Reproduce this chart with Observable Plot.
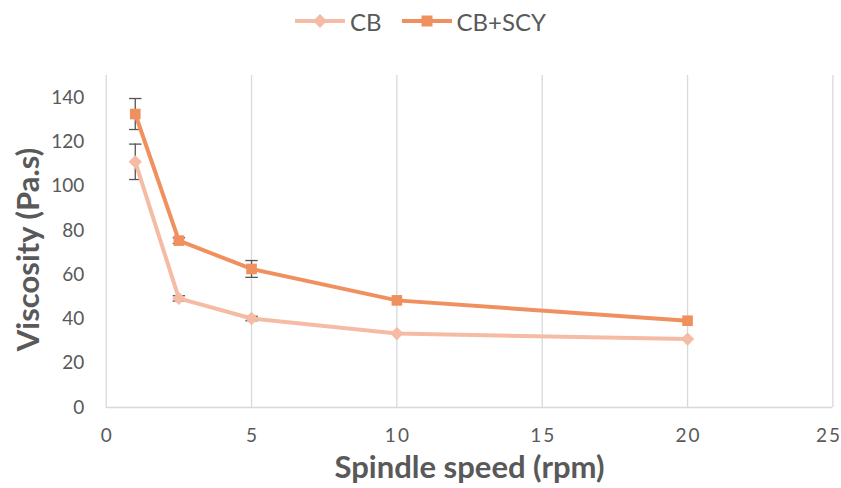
<!DOCTYPE html>
<html><head><meta charset="utf-8">
<script src="https://cdn.jsdelivr.net/npm/d3@7"></script>
<script src="https://cdn.jsdelivr.net/npm/@observablehq/plot@0.6"></script>
<style>
body{margin:0;background:#fff;font-family:Lato,"Open Sans",sans-serif;}
#legend{height:42px;display:flex;justify-content:center;align-items:center;color:#595959;font-size:24px;box-sizing:border-box;}
#legend .item{display:flex;align-items:center;margin:0 10px;}
#legend svg{margin-right:5px;}
</style></head><body>
<div id="legend"></div><div id="chart"></div>
<script>
const speeds = [1, 2.5, 5, 10, 20];
const cb = [111, 49.3, 40.2, 33.4, 30.9];
const cbErr = [8, 1.2, 1, 0, 0];
const cbScy = [132.6, 75.4, 62.6, 48.4, 39.2];
const cbScyErr = [7, 1.3, 3.8, 0, 0];
const seriesNames = ["CB", "CB+SCY"];
const seriesColors = ["#F6BBA4", "#F0905F"];
const seriesSymbols = ["diamond2", "square"];
const xTicks = [0, 5, 10, 15, 20, 25];
const yTicks = [0, 20, 40, 60, 80, 100, 120, 140];
const xLabel = "Spindle speed (rpm)";
const yLabel = "Viscosity (Pa.s)";

const data = [];
[[cb, cbErr], [cbScy, cbScyErr]].forEach(([vals, errs], s) => {
  vals.forEach((v, i) => data.push({series: seriesNames[s], x: speeds[i], y: v, err: errs[i]}));
});
const errData = data.filter(d => d.err > 0);
const cap = {draw(ctx, size) { const r = Math.sqrt(size); ctx.moveTo(-r, 0); ctx.lineTo(r, 0); }};

const plot = Plot.plot({
  width: 841, height: 446,
  marginLeft: 105.7, marginRight: 8.6, marginTop: 33, marginBottom: 81,
  style: {fontFamily: "Lato, 'Open Sans', sans-serif", fontSize: "19px", color: "#595959", background: "#fff", overflow: "visible"},
  x: {domain: [0, 25]},
  y: {domain: [0, 150]},
  color: {domain: seriesNames, range: seriesColors},
  marks: [
    Plot.gridX(xTicks, {stroke: "#d9d9d9", strokeOpacity: 1, strokeWidth: 1.3}),
    Plot.ruleY([0], {stroke: "#d9d9d9", strokeWidth: 1.3}),
    Plot.axisX({ticks: xTicks, tickSize: 0, tickPadding: 21, label: null, fill: "#595959"}),
    Plot.axisY({ticks: yTicks, tickSize: 0, tickPadding: 22, label: null, fill: "#595959"}),
    Plot.ruleX(errData, {x: "x", y1: d => d.y - d.err, y2: d => d.y + d.err, stroke: "#555", strokeWidth: 1.3}),
    Plot.dot(errData, {x: "x", y: d => d.y + d.err, symbol: cap, r: 3.5, stroke: "#555", strokeWidth: 1.3}),
    Plot.dot(errData, {x: "x", y: d => d.y - d.err, symbol: cap, r: 3.5, stroke: "#555", strokeWidth: 1.3}),
    Plot.line(data, {x: "x", y: "y", z: "series", stroke: "series", strokeWidth: 4}),
    Plot.dot(data, {x: "x", y: "y", fill: "series", symbol: d => d.series === seriesNames[0] ? seriesSymbols[0] : seriesSymbols[1], r: 6}),
    Plot.text([xLabel], {frameAnchor: "bottom", dy: 61, text: d => d, fontSize: 31, fontWeight: "bold", fill: "#595959", lineAnchor: "middle", textAnchor: "middle"}),
    Plot.text([yLabel], {frameAnchor: "left", dx: -77, dy: 8, rotate: -90, text: d => d, fontSize: 31, fontWeight: "bold", fill: "#595959", lineAnchor: "middle", textAnchor: "middle"})
  ]
});
const xt = d3.select(plot).selectAll('g[aria-label="x-axis tick label"] text');
xt.style("letter-spacing", "2px").attr("dx", 1);
xt.filter((d, i, n) => i === n.length - 1).attr("dx", -4);
document.getElementById("chart").appendChild(plot);

const legend = d3.select("#legend");
seriesNames.forEach((name, i) => {
  const item = legend.append("div").attr("class", "item");
  const svg = item.append("svg").attr("width", 50).attr("height", 20);
  svg.append("line").attr("x1", 0).attr("x2", 50).attr("y1", 10).attr("y2", 10).attr("stroke", seriesColors[i]).attr("stroke-width", 4);
  if (i === 0) svg.append("path").attr("d", "M25,3L32,10L25,17L18,10Z").attr("fill", seriesColors[i]);
  else svg.append("rect").attr("x", 19.5).attr("y", 4.5).attr("width", 11).attr("height", 11).attr("fill", seriesColors[i]);
  item.append("span").text(name);
});
</script>
</body></html>
